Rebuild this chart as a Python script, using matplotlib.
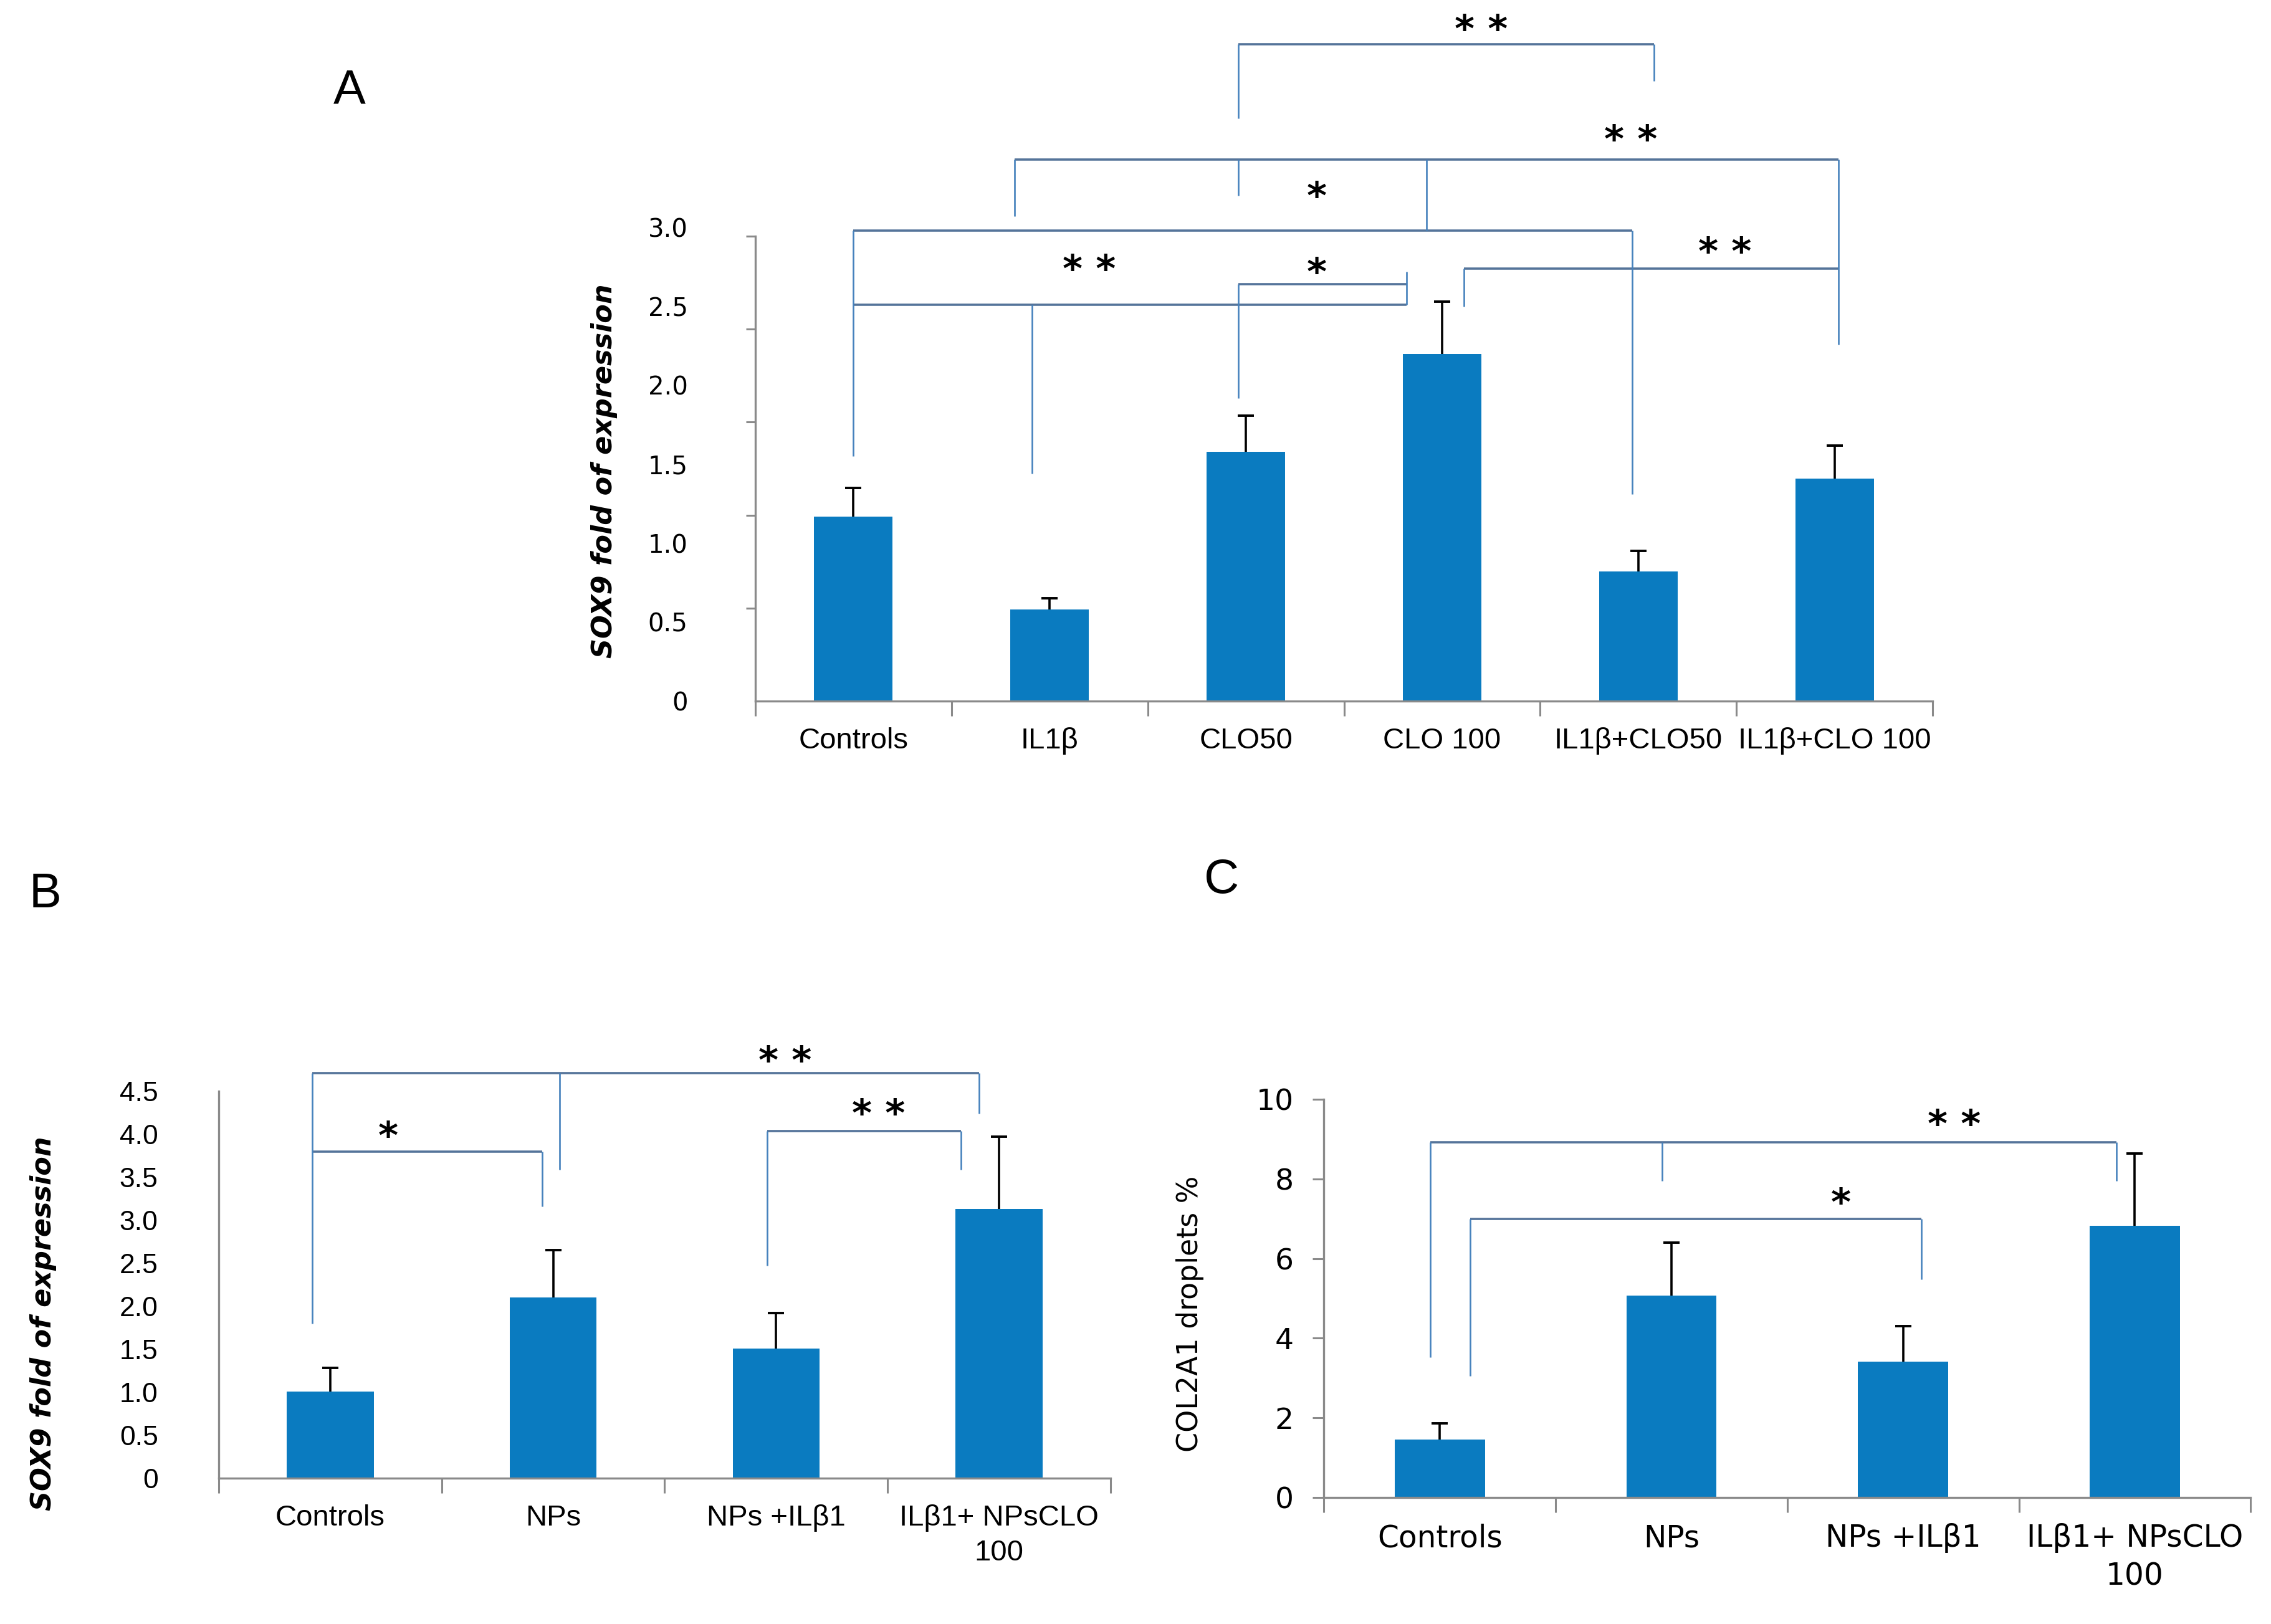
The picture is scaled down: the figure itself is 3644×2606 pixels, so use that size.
"""Three-panel bar chart: SOX9 fold of expression (A, B) and COL2A1 droplets (C)."""

import matplotlib
matplotlib.use("Agg")
import matplotlib.pyplot as plt
import numpy as np

BAR = "#0a7bc0"
LINK_H = "#55749a"
LINK_V = "#4682bd"
AXIS = "#8a8a8a"
NARROW = ["Liberation Sans Narrow", "Liberation Sans", "DejaVu Sans"]
REGULAR = ["Liberation Sans", "DejaVu Sans"]
WIDE = ["DejaVu Sans"]
STAR_SIZE = 44

# ---- panel A ---------------------------------------------------------------
A_groups = ["Controls", "IL1β", "CLO50", "CLO 100", "IL1β+CLO50", "IL1β+CLO 100"]
A_mean = [1.17, 0.58, 1.58, 2.20, 0.82, 1.41]
A_err = [0.18, 0.07, 0.23, 0.33, 0.13, 0.21]
A_ticklabels = ["0", "0.5", "1.0", "1.5", "2.0", "2.5", "3.0"]
A_tickvals = [0, 0.5, 1.0, 1.5, 2.0, 2.5, 3.0]
A_spine_top = 2.945
# significance brackets: horizontal (x1, x2, y), vertical (x, y1, y2), stars (x, y, text)
A_hlines = [(1.96, 4.08, 4.16), (0.82, 5.02, 3.43), (0.0, 3.97, 2.98),
            (0.0, 2.82, 2.51), (1.96, 2.82, 2.64), (3.11, 5.02, 2.74)]
A_vlines = [(1.96, 4.16, 3.69), (4.08, 4.16, 3.93), (0.82, 3.43, 3.07),
            (1.96, 3.43, 3.20), (2.92, 3.43, 2.98), (5.02, 3.43, 2.26),
            (0.0, 2.98, 1.55), (3.97, 2.98, 1.31), (0.91, 2.51, 1.44),
            (2.82, 2.72, 2.51), (1.96, 2.64, 1.92), (3.11, 2.74, 2.50)]
A_stars = [(3.20, 4.28, "* *"), (3.96, 3.58, "* *"), (2.36, 3.22, "*"),
           (1.20, 2.76, "* *"), (2.36, 2.74, "*"), (4.44, 2.87, "* *")]

# ---- panel B ---------------------------------------------------------------
B_groups = ["Controls", "NPs", "NPs +ILβ1", "ILβ1+ NPsCLO\n100"]
B_mean = [1.01, 2.10, 1.51, 3.13]
B_err = [0.27, 0.55, 0.41, 0.84]
B_ticklabels = ["0", "0.5", "1.0", "1.5", "2.0", "2.5", "3.0", "3.5", "4.0", "4.5"]
B_tickvals = [0, 0.5, 1.0, 1.5, 2.0, 2.5, 3.0, 3.5, 4.0, 4.5]
B_hlines = [(-0.08, 2.91, 4.71), (-0.08, 0.95, 3.80), (1.96, 2.83, 4.04)]
B_vlines = [(-0.08, 4.71, 1.80), (1.03, 4.71, 3.59), (2.91, 4.71, 4.24),
            (0.95, 3.80, 3.16), (1.96, 4.04, 2.47), (2.83, 4.04, 3.59)]
B_stars = [(2.04, 4.90, "* *"), (0.26, 4.02, "*"), (2.46, 4.28, "* *")]

# ---- panel C ---------------------------------------------------------------
C_groups = ["Controls", "NPs", "NPs +ILβ1", "ILβ1+ NPsCLO\n100"]
C_mean = [1.45, 5.07, 3.41, 6.83]
C_err = [0.41, 1.33, 0.90, 1.81]
C_ticklabels = ["0", "2", "4", "6", "8", "10"]
C_tickvals = [0, 2, 4, 6, 8, 10]
C_hlines = [(-0.04, 2.92, 8.93), (0.13, 2.08, 7.0)]
C_vlines = [(-0.04, 8.93, 3.52), (0.96, 8.93, 7.95), (2.92, 8.93, 7.95),
            (0.13, 7.0, 3.05), (2.08, 7.0, 5.48)]
C_stars = [(2.22, 9.46, "* *"), (1.73, 7.50, "*")]


def bars(ax, groups, mean, err, width, cat_font, cat_size):
    n = len(groups)
    x = np.arange(n)
    ax.bar(x, mean, width, color=BAR, zorder=2)
    _, caps, _ = ax.errorbar(x, mean, yerr=[np.zeros(n), err], fmt="none",
                             ecolor="black", elinewidth=2.6, capsize=9.5,
                             capthick=2.8, zorder=3)
    for c in caps:  # keep only the upper cap
        if np.allclose(c.get_ydata(), mean):
            c.set_visible(False)
    ax.set_xlim(-0.5, n - 0.5)
    ax.set_xticks(x)
    ax.set_xticklabels(groups, family=cat_font, fontsize=cat_size)
    for lbl in ax.get_xticklabels():
        lbl.set_linespacing(1.35)
    ax.set_xticks(np.arange(n + 1) - 0.5, minor=True)
    ax.tick_params(axis="x", which="major", length=0, pad=30)
    ax.tick_params(axis="x", which="minor", length=17, width=2.2, color=AXIS)
    for side in ("top", "right"):
        ax.spines[side].set_visible(False)
    for side in ("left", "bottom"):
        ax.spines[side].set_color(AXIS)
        ax.spines[side].set_linewidth(2.4)


def brackets(ax, hlines, vlines, stars):
    for x1, x2, y in hlines:
        ax.plot([x1, x2], [y, y], color=LINK_H, lw=2.6, clip_on=False, zorder=1,
                solid_capstyle="butt")
    for x, y1, y2 in vlines:
        ax.plot([x, x], [y1, y2], color=LINK_V, lw=1.9, clip_on=False, zorder=1,
                solid_capstyle="butt")
    for x, y, s in stars:
        # shift the baseline down so the raised asterisk glyph sits on y
        ax.annotate(s, (x, y), xytext=(0, -0.42 * STAR_SIZE),
                    textcoords="offset points", ha="center", va="baseline",
                    fontsize=STAR_SIZE, fontweight="bold", family=WIDE,
                    color="black", annotation_clip=False)


fig = plt.figure(figsize=(36.44, 26.06), dpi=100)
fig.patch.set_facecolor("white")

# A
axA = fig.add_axes([0.3326, 0.5683, 0.5184, 0.2916])
bars(axA, A_groups, A_mean, A_err, 0.40, REGULAR, 34)
axA.set_ylim(0, 3.0)
axA.spines["left"].set_bounds(0, A_spine_top)
axA.set_yticks(A_tickvals)
axA.set_yticklabels(A_ticklabels, family=WIDE, fontsize=29)
axA.set_yticks(np.linspace(0, A_spine_top, 6), minor=True)
axA.tick_params(axis="y", which="major", length=0, pad=78)
axA.tick_params(axis="y", which="minor", length=11, width=2.2, color=AXIS)
axA.set_ylabel("SOX9 fold of expression", family=WIDE, fontsize=32,
               fontweight="bold", fontstyle="italic", va="center")
axA.yaxis.set_label_coords(0.266, 0.710, transform=fig.transFigure)
brackets(axA, A_hlines, A_vlines, A_stars)

# B
axB = fig.add_axes([0.0963, 0.0898, 0.3927, 0.2382])
bars(axB, B_groups, B_mean, B_err, 0.39, REGULAR, 34)
axB.set_ylim(0, 4.5)
axB.set_yticks(B_tickvals)
axB.set_yticklabels(B_ticklabels, family=NARROW, fontsize=32)
axB.tick_params(axis="y", which="major", length=0, pad=70)
axB.set_ylabel("SOX9 fold of expression", family=WIDE, fontsize=32,
               fontweight="bold", fontstyle="italic", va="center")
axB.yaxis.set_label_coords(0.019, 0.185, transform=fig.transFigure)
brackets(axB, B_hlines, B_vlines, B_stars)

# C
axC = fig.add_axes([0.583, 0.078, 0.408, 0.245])
bars(axC, C_groups, C_mean, C_err, 0.39, WIDE, 35)
axC.set_ylim(0, 10)
axC.set_yticks(C_tickvals)
axC.set_yticklabels(C_ticklabels, family=WIDE, fontsize=34)
axC.tick_params(axis="y", which="major", length=13, width=2.2, color=AXIS, pad=22)
axC.set_ylabel("COL2A1 droplets %", family=WIDE, fontsize=33, va="center")
axC.yaxis.set_label_coords(0.524, 0.191, transform=fig.transFigure)
brackets(axC, C_hlines, C_vlines, C_stars)

# panel letters
fig.text(0.154, 0.944, "A", ha="center", va="center", fontsize=56, family=NARROW)
fig.text(0.020, 0.449, "B", ha="center", va="center", fontsize=56, family=NARROW)
fig.text(0.538, 0.458, "C", ha="center", va="center", fontsize=56, family=NARROW)

fig.savefig("out.png", dpi=100, facecolor="white")
